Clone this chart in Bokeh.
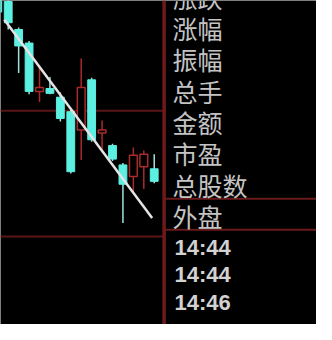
from bokeh.plotting import figure
from bokeh.models import Label, Range1d
from bokeh.embed import file_html
from bokeh.resources import INLINE

# ---- data ----
idx    = [0, 1, 2, 3, 4, 5, 6, 7, 8, 9, 10, 11, 12, 13, 14, 15]
open_  = [11.97, 11.96, 11.67, 11.53, 11.03, 11.06, 10.97, 10.82, 10.63, 11.15, 10.60, 10.47, 10.27, 10.15, 10.25, 10.23]
close  = [11.85, 11.74, 11.50, 11.03, 11.07, 11.01, 10.75, 10.20, 11.07, 10.53, 10.63, 10.33, 10.07, 10.37, 10.38, 10.10]
high   = [11.99, 11.98, 11.69, 11.55, 11.30, 11.18, 11.02, 10.84, 11.37, 11.17, 10.73, 10.49, 10.29, 10.45, 10.42, 10.38]
low    = [11.82, 11.67, 11.22, 11.00, 10.92, 11.00, 10.72, 10.18, 10.32, 10.51, 10.40, 10.31, 9.67, 9.98, 10.02, 10.08]

trend_x = [0.63, 14.8]
trend_y = [11.77, 9.72]

left_grid = [10.83, 9.53]
right_grid = [9.92, 9.60]

labels = ["涨跌", "涨幅", "振幅", "总手", "金额", "市盈", "总股数", "外盘"]
times = ["14:44", "14:44", "14:46"]

W, H = 316, 324
X0, X1 = 0.26, 30.56
Y0, Y1 = 8.62, 11.97
SEP = 15.95

CYAN = "#5cf0e2"
CYAN_WICK = "#9fe3dc"
RED = "#a82a2a"
GRID = "#5a1616"

p = figure(width=W, height=H, output_backend="svg", toolbar_location=None,
           x_range=Range1d(X0, X1), y_range=Range1d(Y0, Y1),
           background_fill_color="black", border_fill_color="black",
           min_border=0, outline_line_color=None)
p.axis.visible = False
p.xgrid.visible = False
p.ygrid.visible = False

# grid / separator lines
p.segment(x0=[X0] * len(left_grid), y0=left_grid, x1=[SEP] * len(left_grid), y1=left_grid,
          line_color=GRID, line_width=2)
p.segment(x0=[SEP] * len(right_grid), y0=right_grid, x1=[X1] * len(right_grid), y1=right_grid,
          line_color="#6a1a1a", line_width=2)
p.segment(x0=[SEP], y0=[Y0], x1=[SEP], y1=[Y1], line_color="#6e1a1a", line_width=3.5)

# candles
up = [i for i in range(len(idx)) if close[i] > open_[i]]
dn = [i for i in range(len(idx)) if close[i] <= open_[i]]

p.segment(x0=[idx[i] for i in dn], y0=[high[i] for i in dn],
          x1=[idx[i] for i in dn], y1=[low[i] for i in dn],
          line_color=CYAN_WICK, line_width=1.5)
p.vbar(x=[idx[i] for i in dn], width=0.75,
       top=[open_[i] for i in dn], bottom=[close[i] for i in dn],
       fill_color=CYAN, line_color=CYAN, line_width=1)

p.segment(x0=[idx[i] for i in up], y0=[high[i] for i in up],
          x1=[idx[i] for i in up], y1=[low[i] for i in up],
          line_color=RED, line_width=1.5)
p.vbar(x=[idx[i] for i in up], width=0.75,
       top=[close[i] for i in up], bottom=[open_[i] for i in up],
       fill_color="black", line_color=RED, line_width=1.5)

# trend line
p.line(trend_x, trend_y, line_color="#e4e4e4", line_width=2.5)

# right panel texts
for k, t in enumerate(labels):
    fy = -3.9 + 31.36 * k
    p.add_layout(Label(x=172, y=H - fy, x_units="screen", y_units="screen", text=t,
                       text_color="#c4c4c4", text_font_size="25px",
                       text_font="Noto Sans CJK SC", text_baseline="middle",
                       text_align="left"))
for k, t in enumerate(times):
    fy = 246.6 + 27.5 * k
    p.add_layout(Label(x=174, y=H - fy, x_units="screen", y_units="screen", text=t,
                       text_color="#d2d2d2", text_font_size="22px",
                       text_font="Liberation Sans", text_font_style="bold",
                       text_baseline="middle", text_align="left"))

open("out.html", "w").write(file_html(p, INLINE))
